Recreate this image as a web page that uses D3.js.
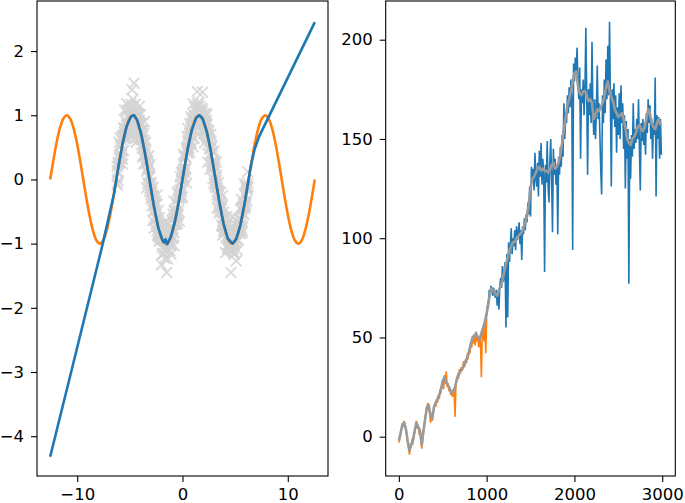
<!DOCTYPE html>
<html>
<head>
<meta charset="utf-8">
<script src="https://cdn.jsdelivr.net/npm/d3@7"></script>
<style>
  body { margin: 0; background: #fff; }
  svg { display: block; }
  text { font-family: "DejaVu Sans", sans-serif; }
</style>
</head>
<body>
<svg id="chart" width="685" height="503"></svg>
<script>
// left panel: sine, noisy samples, fitted curve
const sineX = [-12.566,-12.252,-11.938,-11.624,-11.310,-10.996,-10.681,-10.367,-10.053,-9.739,
  -9.425,-9.111,-8.796,-8.482,-8.168,-7.854,-7.540,-7.226,-6.912,-6.597,
  -6.283,-5.969,-5.655,-5.341,-5.027,-4.712,-4.398,-4.084,-3.770,-3.456,
  -3.142,-2.827,-2.513,-2.199,-1.885,-1.571,-1.257,-0.942,-0.628,-0.314,
  0,0.314,0.628,0.942,1.257,1.571,1.885,2.199,2.513,2.827,
  3.142,3.456,3.770,4.084,4.398,4.712,5.027,5.341,5.655,5.969,
  6.283,6.597,6.912,7.226,7.540,7.854,8.168,8.482,8.796,9.111,
  9.425,9.739,10.053,10.367,10.681,10.996,11.310,11.624,11.938,12.252,12.566];
const sineY = [0,0.31,0.59,0.81,0.95,1,0.95,0.81,0.59,0.31,0,-0.31,-0.59,-0.81,-0.95,-1,-0.95,-0.81,-0.59,-0.31,
  0,0.31,0.59,0.81,0.95,1,0.95,0.81,0.59,0.31,0,-0.31,-0.59,-0.81,-0.95,-1,-0.95,-0.81,-0.59,-0.31,
  0,0.31,0.59,0.81,0.95,1,0.95,0.81,0.59,0.31,0,-0.31,-0.59,-0.81,-0.95,-1,-0.95,-0.81,-0.59,-0.31,
  0,0.31,0.59,0.81,0.95,1,0.95,0.81,0.59,0.31,0,-0.31,-0.59,-0.81,-0.95,-1,-0.95,-0.81,-0.59,-0.31,0];

const scatterX = [-6.2,-6.1,-6.0,-5.9,-5.8,-5.7,-5.6,-5.5,-5.4,-5.3,
  -5.2,-5.1,-5.0,-4.9,-4.8,-4.7,-4.6,-4.5,-4.4,-4.3,
  -4.2,-4.1,-4.0,-3.9,-3.8,-3.7,-3.6,-3.5,-3.4,-3.3,
  -3.2,-3.1,-3.0,-2.9,-2.8,-2.7,-2.6,-2.5,-2.4,-2.3,
  -2.2,-2.1,-2.0,-1.9,-1.8,-1.7,-1.6,-1.5,-1.4,-1.3,
  -1.2,-1.1,-1.0,-0.9,-0.8,-0.7,-0.6,-0.5,-0.4,-0.3,
  -0.2,-0.1,0,0.1,0.2,0.3,0.4,0.5,0.6,0.7,
  0.8,0.9,1.0,1.1,1.2,1.3,1.4,1.5,1.6,1.7,
  1.8,1.9,2.0,2.1,2.2,2.3,2.4,2.5,2.6,2.7,
  2.8,2.9,3.0,3.1,3.2,3.3,3.4,3.5,3.6,3.7,
  3.8,3.9,4.0,4.1,4.2,4.3,4.4,4.5,4.6,4.7,
  4.8,4.9,5.0,5.1,5.2,5.3,5.4,5.5,5.6,5.7,
  5.8,5.9,6.0,6.1,6.2];
const scatterYa = [0.20,-0.02,0.33,0.65,0.38,0.24,0.80,0.73,0.63,1.18,
  0.83,1.14,0.70,1.06,1.40,0.88,0.97,1.17,0.58,1.03,
  0.90,0.64,1.01,0.62,0.75,0.24,0.90,0.25,0.32,-0.06,
  0.37,-0.19,-0.05,-0.28,-0.12,-0.76,-0.39,-0.60,-0.87,-0.48,
  -0.89,-0.70,-1.33,-0.85,-0.93,-1.23,-0.67,-1.45,-0.81,-0.99,
  -0.86,-1.16,-0.64,-0.91,-0.34,-0.70,-0.56,-0.69,-0.24,-0.65,
  0.04,-0.19,0.11,0.39,0.03,0.35,-0.06,0.60,0.56,0.87,
  0.56,0.86,1.18,0.64,0.95,0.84,1.18,0.70,1.14,1.05,
  0.89,1.36,0.71,0.96,0.77,1.01,0.54,0.63,0.16,0.60,
  0.43,0.01,0.44,-0.03,0.07,-0.44,-0.05,-0.37,-0.36,-0.71,
  -0.25,-0.80,-0.72,-1.14,-0.71,-0.67,-1.01,-0.86,-1.45,-0.93,
  -1.13,-0.78,-0.97,-0.65,-1.10,-0.78,-0.62,-0.80,-0.31,-0.81,
  -0.37,-0.42,-0.10,-0.33,-0.06];
const scatterYb = [-0.09,0.27,0.58,0.33,0.62,0.32,0.69,1.08,0.66,0.85,
  1.08,0.65,1.09,0.90,0.81,1.25,1.50,0.64,1.06,0.99,
  0.73,1.14,0.74,0.87,0.35,0.61,0.38,0.58,-0.13,0.28,
  0.07,0.23,-0.30,-0.14,-0.64,-0.38,-0.33,-0.69,-0.24,-0.88,
  -0.59,-0.91,-0.77,-1.16,-0.68,-0.96,-1.12,-0.65,-1.24,-0.88,
  -1.11,-0.78,-0.87,-0.54,-1.03,-0.48,-0.51,-0.20,-0.49,-0.17,
  -0.22,0.11,-0.27,0.14,0.37,0.16,0.48,0.79,0.50,0.42,
  0.98,0.78,0.51,1.01,1.12,0.91,1.37,0.84,1.07,0.75,
  1.11,0.86,0.93,0.57,1.03,0.85,0.27,0.76,0.49,0.70,
  0.22,0.29,-0.06,0.19,0.27,-0.24,-0.25,-0.52,-0.20,-0.42,
  -0.87,-0.51,-0.82,-0.73,-0.58,-1.07,-0.92,-0.77,-1.10,-0.57,
  -0.94,-1.17,-0.83,-1.27,-0.80,-0.66,-0.81,-0.46,-0.84,-0.43,
  -0.54,-0.07,-0.41,-0.14,0.12];
const scatterYc = [0.13,0.10,0.38,0.34,0.54,0.44,0.65,0.80,0.71,0.87,
  0.78,0.99,0.97,0.91,1.11,0.96,1.07,0.96,1.00,0.83,
  0.90,0.92,0.71,0.76,0.49,0.55,0.50,0.27,0.30,0.25,
  0.03,0.04,-0.24,-0.19,-0.33,-0.49,-0.41,-0.62,-0.61,-0.84,
  -0.77,-0.91,-0.82,-1.06,-0.94,-0.93,-1.07,-0.90,-0.99,-0.91,
  -1.01,-0.87,-0.77,-0.82,-0.60,-0.70,-0.54,-0.58,-0.31,-0.29,
  -0.25,-0.01,-0.02,0.16,0.11,0.34,0.49,0.41,0.59,0.61,
  0.80,0.67,0.89,0.92,0.87,1.05,0.95,1.07,0.90,1.01,
  1.03,0.87,1.02,0.85,0.85,0.66,0.75,0.63,0.47,0.53,
  0.27,0.25,0.22,-0.08,-0.01,-0.19,-0.17,-0.41,-0.42,-0.46,
  -0.65,-0.59,-0.84,-0.79,-0.81,-1.02,-0.94,-0.90,-1.04,-0.96,
  -1.09,-0.91,-0.98,-0.82,-0.94,-0.80,-0.84,-0.62,-0.63,-0.59,
  -0.41,-0.45,-0.23,-0.16,-0.11];
const scatterYd = [-0.06,0.24,0.26,0.54,0.38,0.67,0.45,0.74,0.92,0.76,
  0.98,0.77,1.00,1.17,0.95,1.13,0.88,1.06,0.75,0.94,
  1.03,0.74,0.87,0.54,0.67,0.71,0.40,0.47,0.13,0.17,
  0.20,-0.14,-0.07,-0.41,-0.25,-0.28,-0.58,-0.40,-0.80,-0.70,
  -0.96,-0.75,-0.94,-0.79,-1.16,-0.91,-0.87,-1.09,-0.81,-0.98,
  -0.83,-1.03,-0.79,-0.61,-0.83,-0.50,-0.64,-0.39,-0.55,-0.27,
  -0.08,-0.28,0.06,0.02,0.35,0.18,0.43,0.67,0.47,0.71,
  0.59,0.94,0.79,1.00,0.76,0.98,1.13,0.91,1.20,0.93,
  1.05,1.08,0.76,0.91,0.70,0.92,0.65,0.70,0.38,0.49,
  0.52,0.17,0.26,-0.12,0.03,-0.13,-0.45,-0.21,-0.48,-0.42,
  -0.73,-0.62,-0.60,-0.90,-0.74,-1.07,-0.90,-1.08,-0.81,-1.02,
  -0.91,-1.15,-0.84,-0.99,-0.73,-0.94,-0.73,-0.63,-0.76,-0.45,
  -0.54,-0.23,-0.37,-0.12,-0.12];

const fitX = [-12.57,-10.5,-7.6,-7.0,-6.5,-6.1,-5.7,-5.3,-4.9,-4.6,-4.3,-3.9,-3.5,-3.1,-2.7,-2.3,-1.9,
  -1.75,-1.62,-1.45,-1.1,-0.7,-0.3,0.1,0.5,0.9,1.3,1.6,1.9,2.3,2.7,3.1,3.5,3.9,4.3,4.75,5.1,5.5,5.9,6.2,6.5,6.85,7.25,12.57];
const fitY = [-4.32,-2.95,-1.02,-0.58,-0.22,0.18,0.55,0.83,0.98,1.0,0.92,0.69,0.35,-0.04,-0.43,-0.75,-0.95,
  -0.98,-0.93,-1.01,-0.89,-0.64,-0.30,0.10,0.48,0.78,0.96,1.0,0.95,0.75,0.43,0.04,-0.35,-0.69,-0.92,-1.0,-0.93,-0.71,-0.37,-0.08,0.22,0.47,0.66,2.45];

const leftXTicks = [-10, 0, 10];
const leftYTicks = [-4, -3, -2, -1, 0, 1, 2];

// right panel: raw series (orange part, blue part) and smoothed grey line
const orangeStart = 0, blueStart = 1000, rawStep = 10, grayStep = 20;
const orangeV = [-3,-1,1,4,7,5,8,6,3,1,-3,-5,-9,-6,-5,-2,-3,0,2,5,
  8,4,6,2,3,-1,-6,-3,2,6,10,12,15,17,14,12,7,10,8,12,
  14,17,15,19,17,21,19,24,22,26,28,24,31,27,33,25,27,23,25,21,
  23,20,24,22,10,26,29,31,30,34,32,35,33,36,38,35,39,37,41,40,
  44,42,47,45,49,47,51,46,53,48,50,45,50,47,30,52,55,48,58,42,60];
const blueV = [61,66,68,74,72,76,74,71,75,72,70,74,66,72,64,76,80,75,86,78,
  82,88,55,92,60,98,88,96,105,92,100,96,104,94,106,99,103,108,97,104,
  89,106,102,110,104,112,108,118,112,126,111,136,128,135,124,143,130,126,138,121,
  144,131,148,127,140,132,83,137,128,149,126,118,138,150,130,103,145,132,140,127,
  137,102,141,132,146,136,152,141,168,150,162,158,172,163,176,166,180,171,94,188,
  179,191,183,196,178,170,186,140,175,168,180,162,176,206,172,132,175,162,178,158,
  199,165,152,170,150,164,187,160,168,152,134,122,172,158,180,163,190,170,197,172,
  209,168,126,175,160,178,156,172,143,166,152,173,150,177,158,168,145,162,125,159,
  140,155,77,150,130,152,141,168,145,155,148,160,150,170,146,124,158,149,160,147,
  155,142,163,153,170,158,167,150,160,140,158,152,181,121,162,150,161,140,160,142];
const grayV = [-2,2,6,7,4,-2,-7,-4,-2,3,7,5,3,-4,3,9,15,16,11,9,
  15,17,19,21,24,28,30,27,26,24,22,23,25,29,31,33,34,36,38,40,
  43,47,50,51,52,50,49,52,55,58,62,67,73,75,73,72,71,74,76,79,
  83,87,90,94,96,98,98,100,101,102,103,105,108,111,117,125,130,131,133,135,
  136,134,135,134,134,133,134,137,138,135,136,138,142,148,155,161,167,170,174,179,
  183,184,177,173,172,174,174,172,169,170,168,160,162,165,164,166,168,171,176,179,
  174,171,169,165,163,161,162,163,160,156,150,148,147,150,151,153,156,157,155,154,
  156,160,165,163,158,156,155,158,160,157];

const rightXTicks = [0, 1000, 2000, 3000];
const rightYTicks = [0, 50, 100, 150, 200];

const svg = d3.select("#chart");
svg.append("rect").attr("width", 685).attr("height", 503).attr("fill", "#fff");

const plotTop = 1, plotBottom = 476;
const fontSize = 16.5;
const fmt = d => d < 0 ? "\u2212" + Math.abs(d) : String(d);

function drawAxes(x, y, xTicks, yTicks) {
  const gx = svg.append("g")
    .attr("transform", `translate(0,${plotBottom})`)
    .call(d3.axisBottom(x).tickValues(xTicks).tickFormat(fmt).tickSize(6).tickPadding(6));
  const gy = svg.append("g")
    .attr("transform", `translate(${x.range()[0]},0)`)
    .call(d3.axisLeft(y).tickValues(yTicks).tickFormat(fmt).tickSize(6).tickPadding(7));
  [gx, gy].forEach(g => {
    g.select(".domain").remove();
    g.attr("font-size", fontSize).attr("font-family", "DejaVu Sans, sans-serif");
    g.selectAll(".tick line").attr("stroke", "#000").attr("stroke-width", 1.1);
    g.selectAll(".tick text").attr("fill", "#000");
  });
  svg.append("rect")
    .attr("x", x.range()[0]).attr("y", plotTop)
    .attr("width", x.range()[1] - x.range()[0])
    .attr("height", plotBottom - plotTop)
    .attr("fill", "none")
    .attr("stroke", "#000")
    .attr("stroke-width", 1.1);
}

// ---- left panel
const xL = d3.scaleLinear().domain([-13.82, 13.82]).range([37, 328]);
const yL = d3.scaleLinear().domain([-4.62, 2.78]).range([plotBottom, plotTop]);

const scatter = [scatterYa, scatterYb, scatterYc, scatterYd]
  .flatMap(ys => scatterX.map((x, i) => [x, ys[i]]));
const m = 5.4;
svg.append("g")
  .selectAll("path")
  .data(scatter)
  .join("path")
  .attr("d", d => {
    const cx = xL(d[0]), cy = yL(d[1]);
    return `M${cx - m},${cy - m}L${cx + m},${cy + m}M${cx - m},${cy + m}L${cx + m},${cy - m}`;
  })
  .attr("stroke", "#d3d3d3")
  .attr("stroke-opacity", 0.85)
  .attr("stroke-width", 1.9)
  .attr("fill", "none");

svg.append("path")
  .datum(sineX.map((x, i) => [x, sineY[i]]))
  .attr("d", d3.line().x(d => xL(d[0])).y(d => yL(d[1])).curve(d3.curveCatmullRom))
  .attr("fill", "none")
  .attr("stroke", "#ff7f0e")
  .attr("stroke-width", 2.6);

svg.append("path")
  .datum(fitX.map((x, i) => [x, fitY[i]]))
  .attr("d", d3.line().x(d => xL(d[0])).y(d => yL(d[1])))
  .attr("fill", "none")
  .attr("stroke", "#1f77b4")
  .attr("stroke-width", 2.6)
  .attr("stroke-linejoin", "round");

drawAxes(xL, yL, leftXTicks, leftYTicks);

// ---- right panel
const xR = d3.scaleLinear().domain([-150, 3149]).range([385.7, 675.3]);
const yR = d3.scaleLinear().domain([-19.8, 219.5]).range([plotBottom, plotTop]);
const lineR = d3.line().x(d => xR(d[0])).y(d => yR(d[1]));

svg.append("path")
  .datum(blueV.map((v, i) => [blueStart + i * rawStep, v]))
  .attr("d", lineR)
  .attr("fill", "none")
  .attr("stroke", "#1f77b4")
  .attr("stroke-width", 1.6);

svg.append("path")
  .datum(orangeV.map((v, i) => [orangeStart + i * rawStep, v]))
  .attr("d", lineR)
  .attr("fill", "none")
  .attr("stroke", "#ff7f0e")
  .attr("stroke-width", 1.6);

svg.append("path")
  .datum(grayV.map((v, i) => [i * grayStep, v]))
  .attr("d", lineR)
  .attr("fill", "none")
  .attr("stroke", "#9a9a9a")
  .attr("stroke-width", 2.6)
  .attr("stroke-linejoin", "round");

drawAxes(xR, yR, rightXTicks, rightYTicks);
</script>
</body>
</html>
